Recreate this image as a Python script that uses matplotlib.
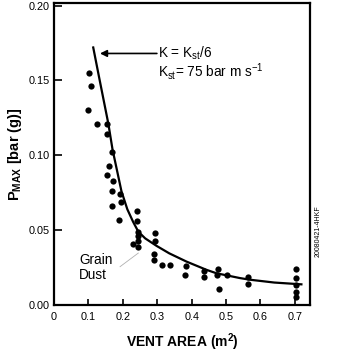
import matplotlib
matplotlib.use("Agg")
import matplotlib.pyplot as plt

plt.rcParams['font.family'] = ['Liberation Sans', 'DejaVu Sans']
plt.rcParams['mathtext.fontset'] = 'custom'
plt.rcParams['mathtext.rm'] = 'Liberation Sans'
plt.rcParams['mathtext.it'] = 'Liberation Sans'
plt.rcParams['mathtext.bf'] = 'Liberation Sans:bold'

# measured points: vent area (m2) vs Pmax (bar g)
vent_area = [0.102, 0.107, 0.099, 0.124, 0.154, 0.154, 0.169, 0.160, 0.154,
             0.172, 0.168, 0.193, 0.194, 0.168, 0.240, 0.190, 0.240, 0.243,
             0.243, 0.243, 0.230, 0.245, 0.293, 0.293, 0.290, 0.290, 0.314,
             0.336, 0.384, 0.382, 0.437, 0.436, 0.477, 0.474, 0.479, 0.504,
             0.564, 0.564, 0.703, 0.703, 0.703, 0.703, 0.703]
p_max = [0.155, 0.146, 0.130, 0.121, 0.121, 0.114, 0.102, 0.093, 0.087,
         0.083, 0.076, 0.074, 0.069, 0.066, 0.063, 0.057, 0.056, 0.049,
         0.046, 0.043, 0.041, 0.039, 0.048, 0.043, 0.034, 0.030, 0.027,
         0.027, 0.026, 0.020, 0.023, 0.019, 0.024, 0.020, 0.011, 0.020,
         0.019, 0.014, 0.024, 0.018, 0.0135, 0.009, 0.0055]

# K = Kst/6 curve
curve_area = [0.114, 0.132, 0.158, 0.170, 0.183, 0.196, 0.213, 0.230, 0.245,
              0.265, 0.298, 0.335, 0.385, 0.443, 0.472, 0.540, 0.569, 0.640,
              0.719]
curve_p = [0.172, 0.151, 0.121, 0.104, 0.090, 0.076, 0.064, 0.0555, 0.049,
           0.0445, 0.0395, 0.0345, 0.0290, 0.0235, 0.0212, 0.0180, 0.0169,
           0.0150, 0.0138]

x_ticks = [0, 0.1, 0.2, 0.3, 0.4, 0.5, 0.6, 0.7]
x_tick_labels = ['0', '0.1', '0.2', '0.3', '0.4', '0.5', '0.6', '0.7']
y_ticks = [0.00, 0.05, 0.10, 0.15, 0.20]
y_tick_labels = ['0.00', '0.05', '0.10', '0.15', '0.20']

fig = plt.figure(figsize=(3.45, 3.57), dpi=100)
ax = fig.add_axes([54 / 345, 52 / 357, 256 / 345, 302 / 357])

ax.plot(vent_area, p_max, 'o', color='black', markersize=4.5, markeredgewidth=0)
ax.plot(curve_area, curve_p, '-', color='black', lw=1.6)

ax.set_xlim(0, 0.744)
ax.set_ylim(0, 0.2017)
ax.set_xticks(x_ticks)
ax.set_xticklabels(x_tick_labels)
ax.set_yticks(y_ticks)
ax.set_yticklabels(y_tick_labels)
ax.tick_params(axis='both', direction='in', labelsize=7.8, width=1.2, color='black')
ax.tick_params(axis='x', length=4, pad=5)
ax.tick_params(axis='y', length=6, pad=3)
for s in ax.spines.values():
    s.set_linewidth(1.6)

ax.set_xlabel(r'VENT AREA (m$^{\mathbf{2}}$)', fontsize=10, fontweight='bold', labelpad=7)
ax.set_ylabel(r'P$_{\mathbf{MAX}}$ [bar (g)]', fontsize=10.5, fontweight='bold', labelpad=3)

ax.annotate('', xy=(0.1336, 0.168), xytext=(0.299, 0.168),
            arrowprops=dict(arrowstyle='-|>', color='black', lw=1.2,
                            mutation_scale=10, shrinkA=0, shrinkB=0))
ax.text(0.303, 0.168, r'K = K$_{\mathrm{st}}$/6', fontsize=9.8, va='center', ha='left')
ax.text(0.303, 0.156, r'K$_{\mathrm{st}}$= 75 bar m s$^{\mathrm{-1}}$', fontsize=9.8,
        va='center', ha='left')

ax.text(0.073, 0.025, 'Grain\nDust', fontsize=9.8, va='center', ha='left', linespacing=1.05)
ax.plot([0.192, 0.245], [0.0256, 0.0347], color='#b0b0b0', lw=0.6)

fig.text(0.922, 0.353, '20080421-4HKF', rotation=90, fontsize=5, ha='center', va='center')

fig.savefig('out.png', dpi=100)
